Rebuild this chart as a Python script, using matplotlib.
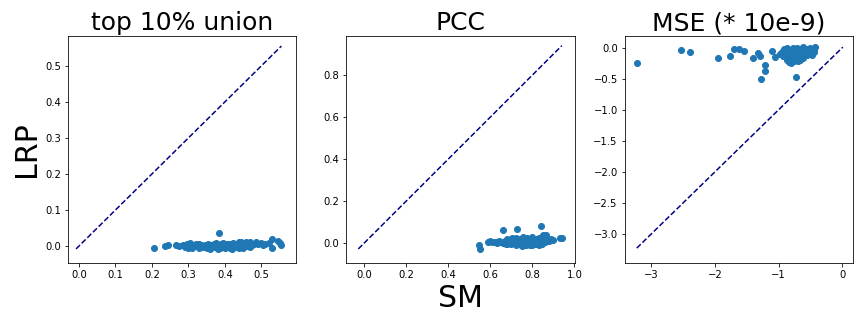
import matplotlib
matplotlib.use("Agg")
import matplotlib.pyplot as plt

titles = ["top 10% union", "PCC", "MSE (* 10e-9)"]
x_label = "SM"
y_label = "LRP"

# Panel 1: top 10% union
p1_sm = [0.205, 0.235, 0.245, 0.265, 0.275, 0.285, 0.29, 0.295, 0.30, 0.305,
         0.31, 0.315, 0.32, 0.325, 0.33, 0.335, 0.34, 0.345, 0.35, 0.355,
         0.36, 0.362, 0.365, 0.37, 0.372, 0.375, 0.378, 0.38, 0.384, 0.386,
         0.39, 0.392, 0.395, 0.398, 0.40, 0.402, 0.405, 0.408, 0.41, 0.412,
         0.415, 0.418, 0.42, 0.422, 0.425, 0.428, 0.43, 0.433, 0.436, 0.44,
         0.442, 0.445, 0.447, 0.45, 0.452, 0.455, 0.458, 0.46, 0.463, 0.466,
         0.47, 0.475, 0.48, 0.485, 0.49, 0.50, 0.505, 0.51, 0.52, 0.528,
         0.528, 0.545, 0.55, 0.555, 0.30, 0.33, 0.36, 0.40, 0.44, 0.47,
         0.38, 0.42, 0.35, 0.45]
p1_lrp = [-0.006, 0.001, 0.002, 0.003, 0.001, 0.004, -0.002, 0.006, 0.002, 0.008,
          -0.004, 0.003, 0.005, 0.000, 0.006, 0.002, -0.003, 0.004, 0.001, 0.007,
          -0.005, 0.003, 0.000, 0.005, -0.002, 0.008, 0.002, 0.004, 0.037, -0.004,
          0.006, 0.001, 0.009, -0.003, 0.004, 0.000, 0.007, -0.002, 0.005, 0.002,
          -0.004, 0.006, 0.001, 0.008, -0.001, 0.004, 0.003, -0.003, 0.006, 0.010,
          0.002, 0.012, -0.002, 0.005, 0.008, 0.001, 0.011, 0.004, -0.001, 0.009,
          0.012, 0.003, 0.007, 0.010, 0.005, 0.008, 0.002, 0.006, 0.009, 0.019,
          -0.005, 0.014, 0.008, 0.004, -0.006, -0.005, -0.007, -0.006, -0.004, -0.003,
          -0.008, -0.007, -0.004, -0.005]

# Panel 2: PCC
p2_sm = [0.548, 0.55, 0.59, 0.60, 0.61, 0.62, 0.63, 0.64, 0.65, 0.66,
         0.66, 0.67, 0.675, 0.68, 0.69, 0.695, 0.70, 0.705, 0.71, 0.715,
         0.72, 0.725, 0.726, 0.73, 0.735, 0.74, 0.745, 0.75, 0.755, 0.76,
         0.765, 0.77, 0.775, 0.78, 0.785, 0.79, 0.795, 0.80, 0.805, 0.81,
         0.815, 0.82, 0.825, 0.83, 0.835, 0.84, 0.84, 0.845, 0.85, 0.855,
         0.86, 0.865, 0.87, 0.88, 0.89, 0.90, 0.93, 0.94, 0.70, 0.74,
         0.78, 0.82, 0.86, 0.72, 0.76, 0.80, 0.68, 0.75, 0.79, 0.83]
p2_lrp = [-0.008, -0.028, 0.006, 0.008, 0.004, 0.007, 0.002, 0.009, 0.005, 0.063,
          0.000, 0.012, -0.004, 0.018, 0.006, 0.010, -0.006, 0.022, 0.008, 0.004,
          0.026, -0.002, 0.068, 0.014, 0.006, 0.020, -0.005, 0.010, 0.028, 0.003,
          0.016, -0.007, 0.024, 0.008, 0.018, -0.003, 0.012, 0.030, 0.005, 0.014,
          -0.006, 0.020, 0.009, 0.026, 0.002, 0.082, 0.012, -0.004, 0.036, 0.018,
          0.008, 0.040, 0.014, 0.010, 0.020, 0.016, 0.022, 0.024, 0.004, 0.000,
          0.002, -0.002, 0.004, -0.008, -0.010, -0.008, -0.006, -0.012, -0.009, -0.007]

# Panel 3: MSE (* 10e-9)
p3_sm = [-3.23, -2.54, -2.40, -1.96, -1.77, -1.70, -1.63, -1.55, -1.41, -1.32,
         -1.30, -1.21, -1.22, -1.27, -1.10, -1.05, -0.72, -0.42, -0.47, -0.83,
         -0.98, -0.95, -0.93, -0.91, -0.90, -0.88, -0.87, -0.86, -0.85, -0.84,
         -0.82, -0.81, -0.80, -0.79, -0.78, -0.77, -0.76, -0.75, -0.74, -0.73,
         -0.72, -0.71, -0.70, -0.69, -0.68, -0.67, -0.66, -0.65, -0.64, -0.63,
         -0.62, -0.61, -0.60, -0.58, -0.57, -0.55, -0.53, -0.51, -0.50, -0.48,
         -0.45, -0.44, -0.80, -0.77, -0.74, -0.70, -0.66, -0.86, -0.62, -0.56]
p3_lrp = [-0.24, -0.03, -0.07, -0.16, -0.13, -0.02, -0.02, -0.05, -0.17, -0.08,
          -0.13, -0.27, -0.38, -0.50, -0.05, -0.15, -0.47, 0.01, -0.11, -0.23,
          -0.10, -0.06, -0.14, -0.02, -0.09, -0.04, -0.12, 0.00, -0.08, -0.16,
          -0.03, -0.11, -0.06, -0.19, -0.01, -0.13, -0.07, -0.22, -0.04, -0.15,
          -0.09, 0.00, -0.12, -0.05, -0.18, -0.02, -0.10, -0.07, -0.14, -0.03,
          -0.08, 0.01, -0.11, -0.05, -0.09, -0.02, -0.06, -0.10, 0.00, -0.04,
          -0.07, -0.02, -0.24, -0.20, -0.17, -0.21, -0.19, -0.20, -0.16, -0.12]

panels = [(p1_sm, p1_lrp), (p2_sm, p2_lrp), (p3_sm, p3_lrp)]
xlims = [(-0.030, 0.596), (-0.085, 1.001), (-3.42, 0.17)]
ylims = [(-0.047, 0.583), (-0.095, 0.986), (-3.47, 0.19)]

fig, axes = plt.subplots(1, 3, figsize=(12, 4.5), dpi=72)
fig.subplots_adjust(left=68/864, right=853/864, bottom=1-263/324, top=1-36/324,
                    wspace=0.219)

for ax, (xs, ys), title, xl, yl in zip(axes, panels, titles, xlims, ylims):
    ax.scatter(xs, ys, color="C0")
    lo = min(min(xs), min(ys))
    hi = max(max(xs), max(ys))
    ax.plot([lo, hi], [lo, hi], linestyle="--", color="navy")
    ax.set_title(title, fontsize=25)
    ax.set_xlim(*xl)
    ax.set_ylim(*yl)
    ax.tick_params(labelsize=10)

axes[0].set_ylabel(y_label, fontsize=30)
axes[1].set_xlabel(x_label, fontsize=30)

fig.savefig("out.png", dpi=72)
